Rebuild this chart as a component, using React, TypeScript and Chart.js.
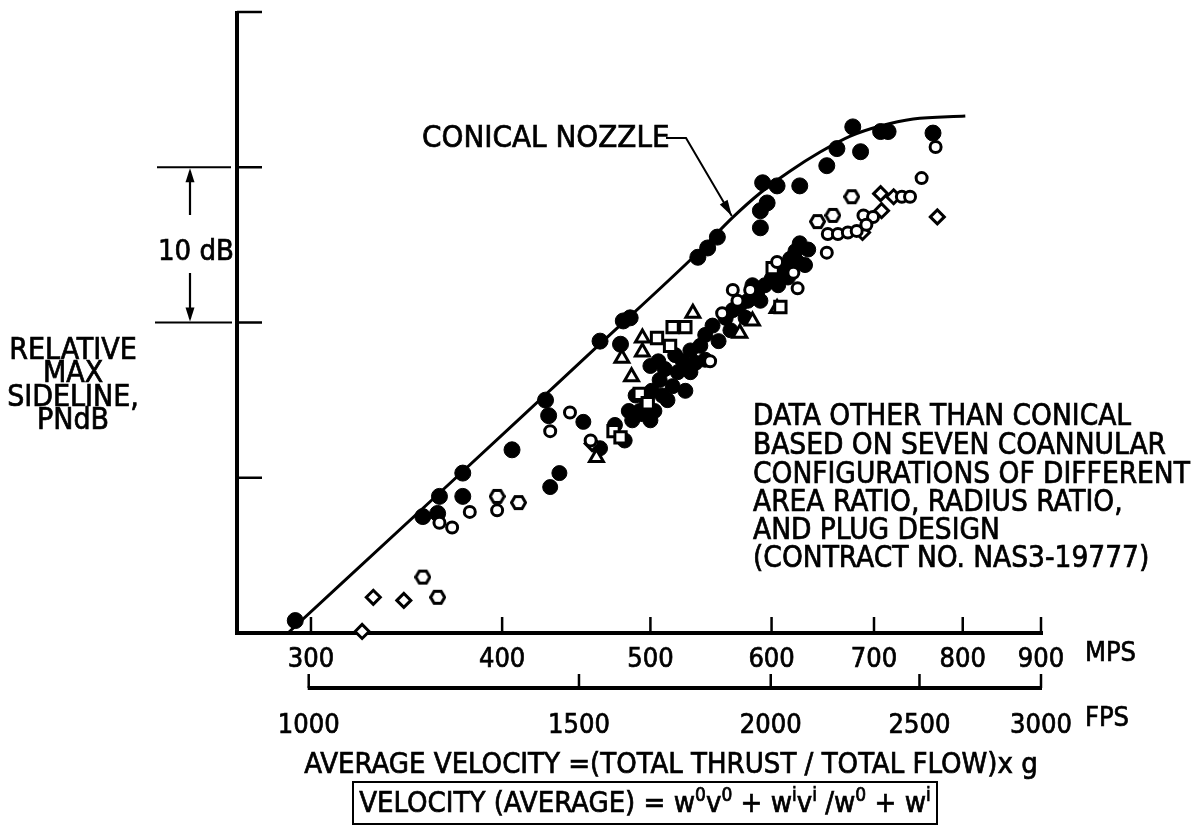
import React, { useEffect, useRef } from "react";
import { Chart, registerables } from "chart.js";

Chart.register(...registerables);

// ---- axes / ticks ----
const mpsTicks = [300, 400, 500, 600, 700, 800, 900];
const fpsTicks = [1000, 1500, 2000, 2500, 3000];
const dbTicks = [10, 20, 30, 40];

// ---- conical nozzle faired curve (velocity m/s, relative dB) ----
const curveV = [289.8, 364.3, 426.7, 463.5, 537.2, 566.4, 589.8, 617.1, 645.5, 675.5, 706.6, 742.6, 803.1];
const curveDb = [0.0, 9.05, 15.33, 18.62, 24.51, 26.8, 28.34, 29.76, 30.98, 32.01, 32.66, 33.11, 33.3];

// ---- conical nozzle data (filled circles) ----
const conicalV = [293, 355, 363, 364, 377, 377, 406, 427, 429, 463.5, 478, 480, 485, 537, 545, 553, 590, 590, 596, 592, 605, 626, 652, 662, 686, 678, 707, 715, 765];
const conicalDb = [0.8, 7.5, 7.7, 8.8, 10.3, 8.8, 11.8, 15.0, 14.0, 18.8, 18.6, 20.1, 20.3, 24.2, 24.8, 25.5, 26.1, 27.2, 27.7, 29.0, 28.8, 28.8, 30.1, 31.2, 31.0, 32.6, 32.3, 32.3, 32.2];

// ---- coannular configurations ----
const circleV = [364, 371, 381, 397, 430, 443, 457, 547, 557, 566, 581, 570, 605, 620, 624, 652, 653, 663, 673, 682, 689, 699, 692, 730, 739, 752, 768];
const circleDb = [7.1, 6.8, 7.8, 7.9, 13.0, 14.2, 12.4, 17.5, 20.6, 22.1, 22.1, 21.4, 23.9, 23.2, 22.2, 24.5, 25.7, 25.7, 25.8, 25.9, 26.9, 26.8, 26.3, 28.1, 28.1, 29.3, 31.3];

const hexV = [355, 363, 397, 410, 643, 658, 677];
const hexDb = [3.6, 2.3, 8.8, 8.4, 26.5, 26.9, 28.1];

const diamondV = [324, 329.5, 345, 458, 688, 707, 721, 708, 770];
const diamondDb = [0.1, 2.3, 2.1, 12.2, 25.8, 28.3, 28.1, 27.2, 26.8];

const squareV = [473, 478, 505, 517, 527, 515, 492, 498, 608, 601];
const squareDb = [13.0, 12.6, 19.0, 19.7, 19.7, 18.5, 15.4, 14.8, 21.0, 23.5];

const triangleV = [461, 479, 494, 494, 486, 533, 605, 583, 572];
const triangleDb = [11.3, 17.7, 19.0, 18.1, 16.5, 20.6, 20.9, 20.1, 19.3];

const filledV = [436, 430, 484, 494, 452, 463.5, 497, 501, 507, 511, 517, 521, 525, 531, 535, 539, 543, 549, 554, 560, 566, 572, 579, 587, 594, 600, 604, 611, 617, 622, 626, 631, 506, 500, 492, 503, 513, 527,
  474, 486.5, 489, 509, 519, 531, 543, 564, 577, 590, 583, 606, 615, 624, 634, 500, 481];
const filledDb = [10.3, 9.4, 14.3, 14.1, 13.6, 11.9, 15.0, 15.6, 16.3, 17.0, 15.9, 16.8, 17.5, 18.2, 17.4, 18.5, 19.2, 19.8, 18.8, 20.3, 20.8, 21.1, 21.4, 21.9, 22.4, 22.8, 23.2, 23.5, 24.1, 24.6, 25.1, 23.7, 17.5, 17.2, 14.3, 14.3, 15.0, 15.6,
  13.4, 13.7, 15.3, 15.3, 17.9, 16.8, 17.6, 19.5, 20.3, 21.4, 22.4, 22.4, 22.9, 23.9, 24.7, 13.7, 12.4];

// ---- text ----
const curveLabel = "CONICAL NOZZLE";
const dbSpanLabel = "10 dB";
const yTitleLines = ["RELATIVE", "MAX", "SIDELINE,", "PNdB"];
const noteLines = [
  "DATA OTHER THAN CONICAL",
  "BASED ON SEVEN COANNULAR",
  "CONFIGURATIONS OF DIFFERENT",
  "AREA RATIO, RADIUS RATIO,",
  "AND PLUG DESIGN",
  "(CONTRACT NO. NAS3-19777)",
];
const mpsUnit = "MPS";
const fpsUnit = "FPS";
const xTitle = "AVERAGE VELOCITY =(TOTAL THRUST / TOTAL FLOW)x g";
const formulaParts: [string, boolean][] = [
  ["VELOCITY (AVERAGE) = w", false], ["0", true], ["v", false], ["0", true],
  [" + w", false], ["i", true], ["v", false], ["i", true],
  [" /w", false], ["0", true], [" + w", false], ["i", true],
];

const FAM = '"DejaVu Sans Condensed", "Liberation Sans Narrow", "DejaVu Sans", sans-serif';
const font = (s: number) => `${s}px ${FAM}`;

function zip(xs: number[], ys: number[]) {
  return xs.map((x, i) => ({ x, y: ys[i] }));
}

function hexCanvas(d: number, lw: number) {
  const c = document.createElement("canvas");
  c.width = d;
  c.height = d;
  const g = c.getContext("2d")!;
  const r = d / 2 - lw / 2;
  g.beginPath();
  for (let k = 0; k < 6; k++) {
    const a = (Math.PI / 3) * k;
    const px = d / 2 + r * Math.cos(a);
    const py = d / 2 + r * Math.sin(a);
    if (k === 0) g.moveTo(px, py);
    else g.lineTo(px, py);
  }
  g.closePath();
  g.fillStyle = "#fff";
  g.fill();
  g.lineWidth = lw;
  g.strokeStyle = "#000";
  g.stroke();
  return c;
}

function arrowHead(ctx: CanvasRenderingContext2D, fx: number, fy: number, tx: number, ty: number, len: number, half: number) {
  const dx = tx - fx, dy = ty - fy;
  const L = Math.hypot(dx, dy);
  const ux = dx / L, uy = dy / L;
  const bx = tx - ux * len, by = ty - uy * len;
  ctx.beginPath();
  ctx.moveTo(tx, ty);
  ctx.lineTo(bx - uy * half, by + ux * half);
  ctx.lineTo(bx + uy * half, by - ux * half);
  ctx.closePath();
  ctx.fill();
}

function text(ctx: CanvasRenderingContext2D, s: string, x: number, y: number) {
  ctx.fillText(s, x, y);
  ctx.strokeText(s, x, y);
}

export default function App() {
  const ref = useRef<HTMLCanvasElement>(null);

  useEffect(() => {
    const canvas = ref.current!;
    const hex = hexCanvas(17, 3);

    const overlay = {
      id: "overlay",
      beforeDatasetsDraw(chart: any) {
        const { ctx, chartArea: ca, scales } = chart;
        const x = scales.x, x2 = scales.x2, y = scales.y;
        ctx.save();
        ctx.strokeStyle = "#000";
        ctx.lineCap = "butt";
        // y axis
        ctx.lineWidth = 4;
        ctx.beginPath();
        ctx.moveTo(ca.left, y.getPixelForValue(40) - 1);
        ctx.lineTo(ca.left, ca.bottom + 2);
        ctx.stroke();
        // x axis (MPS)
        ctx.beginPath();
        ctx.moveTo(ca.left - 2, ca.bottom);
        ctx.lineTo(x.getPixelForValue(mpsTicks[mpsTicks.length - 1]) + 2, ca.bottom);
        ctx.stroke();
        // y ticks (inward)
        ctx.lineWidth = 2.5;
        for (const t of dbTicks) {
          const py = y.getPixelForValue(t);
          ctx.beginPath();
          ctx.moveTo(ca.left, py);
          ctx.lineTo(ca.left + 25, py);
          ctx.stroke();
        }
        // x ticks (upward)
        for (const t of mpsTicks) {
          const px = x.getPixelForValue(t);
          ctx.beginPath();
          ctx.moveTo(px, ca.bottom);
          ctx.lineTo(px, ca.bottom - 16);
          ctx.stroke();
        }
        // FPS axis
        const fy = x2.top;
        ctx.lineWidth = 4;
        ctx.beginPath();
        ctx.moveTo(x2.getPixelForValue(fpsTicks[0]) - 1, fy);
        ctx.lineTo(x2.getPixelForValue(fpsTicks[fpsTicks.length - 1]) + 1, fy);
        ctx.stroke();
        ctx.lineWidth = 2.5;
        for (const t of fpsTicks) {
          const px = x2.getPixelForValue(t);
          ctx.beginPath();
          ctx.moveTo(px, fy);
          ctx.lineTo(px, fy - 14);
          ctx.stroke();
        }
        ctx.restore();
      },
      afterDraw(chart: any) {
        const { ctx, scales } = chart;
        const x = scales.x, y = scales.y;
        ctx.save();
        ctx.fillStyle = "#000";
        ctx.strokeStyle = "#000";
        ctx.textBaseline = "middle";

        // CONICAL NOZZLE label and leader
        ctx.lineWidth = 0.7;
        ctx.font = font(31);
        ctx.textAlign = "left";
        text(ctx, curveLabel, 422, 139);
        const tipX = x.getPixelForValue(566) - 1;
        const tipY = y.getPixelForValue(26.8) - 1;
        ctx.lineWidth = 2;
        ctx.beginPath();
        ctx.moveTo(666, 138);
        ctx.lineTo(686, 138);
        ctx.lineTo(tipX, tipY);
        ctx.stroke();
        arrowHead(ctx, 686, 138, tipX, tipY, 16, 4.5);

        // 10 dB span marker
        const y30 = y.getPixelForValue(30);
        const y20 = y.getPixelForValue(20);
        ctx.lineWidth = 2.2;
        ctx.beginPath();
        ctx.moveTo(157, y30); ctx.lineTo(231, y30);
        ctx.moveTo(155, y20); ctx.lineTo(232, y20);
        ctx.moveTo(190, 215); ctx.lineTo(190, y30 + 4);
        ctx.moveTo(190, 273); ctx.lineTo(190, y20 - 4);
        ctx.stroke();
        arrowHead(ctx, 190, 215, 190, y30 + 1, 14, 4.5);
        arrowHead(ctx, 190, 273, 190, y20 - 1, 14, 4.5);
        ctx.lineWidth = 0.7;
        ctx.font = font(29);
        ctx.textAlign = "left";
        text(ctx, dbSpanLabel, 158, 252);

        // y title
        ctx.font = font(30);
        ctx.textAlign = "center";
        const yT = [351, 374, 398, 421];
        yTitleLines.forEach((s, i) => text(ctx, s, 73, yT[i]));

        // note block
        ctx.font = font(29.5);
        ctx.textAlign = "left";
        const nT = [417, 446, 475, 503, 531, 559];
        noteLines.forEach((s, i) => text(ctx, s, 753, nT[i]));

        // unit labels
        ctx.font = font(27);
        text(ctx, mpsUnit, 1085, 654);
        text(ctx, fpsUnit, 1085, 719);

        // x title
        ctx.font = font(29);
        ctx.textAlign = "center";
        text(ctx, xTitle, 671, 765);

        // boxed formula
        const bL = 353, bR = 937, bT = 782, bB = 824;
        ctx.lineWidth = 2;
        ctx.strokeRect(bL, bT, bR - bL, bB - bT);
        ctx.lineWidth = 0.7;
        const mainF = font(29), supF = font(19);
        let total = 0;
        for (const [t, sup] of formulaParts) {
          ctx.font = sup ? supF : mainF;
          total += ctx.measureText(t).width;
        }
        let cx = (bL + bR) / 2 - total / 2;
        ctx.textAlign = "left";
        const cy = (bT + bB) / 2 + 1;
        for (const [t, sup] of formulaParts) {
          ctx.font = sup ? supF : mainF;
          text(ctx, t, cx, sup ? cy - 8 : cy);
          cx += ctx.measureText(t).width;
        }
        ctx.restore();
      },
    };

    const openStyle = { backgroundColor: "#fff", borderColor: "#000", borderWidth: 3 };
    const tickFont = { family: FAM, size: 27 };

    const chart = new Chart(canvas, {
      type: "scatter",
      data: {
        datasets: [
          {
            type: "line",
            label: "Conical nozzle curve",
            data: zip(curveV, curveDb),
            borderColor: "#000",
            borderWidth: 3,
            pointRadius: 0,
            cubicInterpolationMode: "monotone",
            fill: false,
            clip: false,
            order: 10,
          } as any,
          {
            label: "Open circles",
            data: zip(circleV, circleDb),
            pointStyle: "circle",
            pointRadius: 5.5,
            ...openStyle,
            clip: false,
          },
          {
            label: "Open hexagons",
            data: zip(hexV, hexDb),
            pointStyle: hex,
            pointRadius: 8.5,
            clip: false,
          } as any,
          {
            label: "Open diamonds",
            data: zip(diamondV, diamondDb),
            pointStyle: "rectRot",
            pointRadius: 7,
            ...openStyle,
            clip: false,
          },
          {
            label: "Open squares",
            data: zip(squareV, squareDb),
            pointStyle: "rect",
            pointRadius: 8,
            ...openStyle,
            clip: false,
          },
          {
            label: "Open triangles",
            data: zip(triangleV, triangleDb),
            pointStyle: "triangle",
            pointRadius: 8,
            ...openStyle,
            clip: false,
          },
          {
            label: "Filled coannular",
            data: zip(filledV, filledDb),
            pointStyle: "circle",
            pointRadius: 7.5,
            backgroundColor: "#000",
            borderColor: "#000",
            borderWidth: 1,
            clip: false,
          },
          {
            label: "Conical nozzle",
            data: zip(conicalV, conicalDb),
            pointStyle: "circle",
            pointRadius: 8,
            backgroundColor: "#000",
            borderColor: "#000",
            borderWidth: 1,
            clip: false,
          },
        ],
      },
      options: {
        responsive: false,
        animation: false,
        devicePixelRatio: 1,
        layout: { padding: { left: 237, top: 12, right: 163, bottom: 0 } },
        plugins: { legend: { display: false }, tooltip: { enabled: false } },
        scales: {
          y: { type: "linear", min: 0, max: 40, display: false },
          x: {
            type: "logarithmic",
            position: "bottom",
            min: 268.4,
            max: 900,
            weight: 0,
            grid: { display: false },
            border: { display: false },
            afterBuildTicks: (s: any) => { s.ticks = mpsTicks.map((v) => ({ value: v })); },
            afterFit: (s: any) => { s.height = 55; },
            ticks: {
              autoSkip: false,
              maxRotation: 0,
              minRotation: 0,
              padding: 3,
              color: "#000",
              textStrokeColor: "#000",
              textStrokeWidth: 0.7,
              font: tickFont,
              callback: (v: any) => String(v),
            },
          },
          x2: {
            type: "logarithmic",
            position: "bottom",
            min: 898,
            max: 3000,
            weight: 1,
            grid: { display: false },
            border: { display: false },
            afterBuildTicks: (s: any) => { s.ticks = fpsTicks.map((v) => ({ value: v })); },
            afterFit: (s: any) => { s.height = 146; },
            ticks: {
              autoSkip: false,
              maxRotation: 0,
              minRotation: 0,
              padding: 14,
              color: "#000",
              textStrokeColor: "#000",
              textStrokeWidth: 0.7,
              font: tickFont,
              callback: (v: any) => String(v),
            },
          },
        },
      } as any,
      plugins: [overlay],
    });
    return () => chart.destroy();
  }, []);

  return (
    <div style={{ position: "absolute", left: 0, top: 0, width: 1204, height: 834, background: "#fff" }}>
      <canvas ref={ref} width={1204} height={834} style={{ display: "block", width: 1204, height: 834 }} />
    </div>
  );
}
